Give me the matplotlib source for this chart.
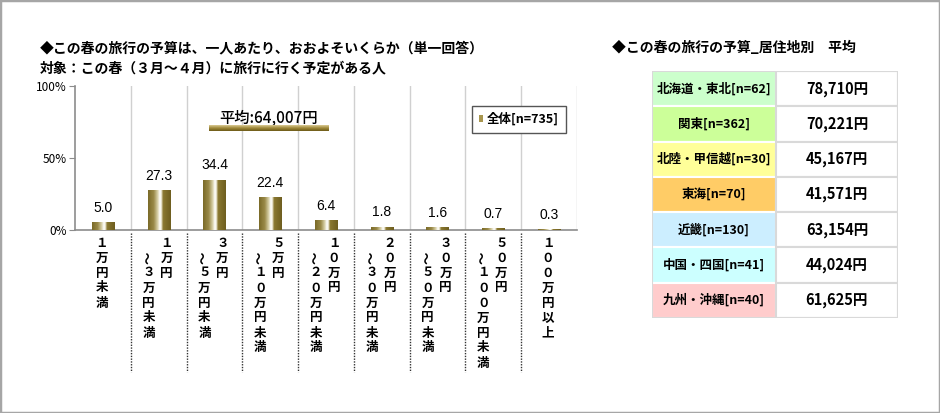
import numpy as np
import matplotlib
matplotlib.use("Agg")
import matplotlib.pyplot as plt
from matplotlib.colors import LinearSegmentedColormap
from matplotlib.patches import Rectangle, Patch

plt.rcParams["font.family"] = ["Noto Sans CJK JP", "DejaVu Sans"]

# ---- data ----
categories = [
    "１万円未満",
    "１万円～３万円未満",
    "３万円～５万円未満",
    "５万円～１０万円未満",
    "１０万円～２０万円未満",
    "２０万円～３０万円未満",
    "３０万円～５０万円未満",
    "５０万円～１００万円未満",
    "１００万円以上",
]
values = [5.0, 27.3, 34.4, 22.4, 6.4, 1.8, 1.6, 0.7, 0.3]
y_ticks = [0, 50, 100]
y_tick_labels = ["0%", "50%", "100%"]
legend_label = "全体[n=735]"
average_text = "平均:64,007円"

title_left = "◆この春の旅行の予算は、一人あたり、おおよそいくらか（単一回答）"
subtitle_left = "対象：この春（３月～４月）に旅行に行く予定がある人"
title_right = "◆この春の旅行の予算_居住地別　平均"

regions = [
    "北海道・東北[n=62]",
    "関東[n=362]",
    "北陸・甲信越[n=30]",
    "東海[n=70]",
    "近畿[n=130]",
    "中国・四国[n=41]",
    "九州・沖縄[n=40]",
]
region_avgs = ["78,710円", "70,221円", "45,167円", "41,571円",
               "63,154円", "44,024円", "61,625円"]
region_colors = ["#ccffcc", "#ccff99", "#ffff99", "#ffcc66",
                 "#cceeff", "#ccffff", "#ffcccc"]

W, H = 940, 413
fig = plt.figure(figsize=(W / 100, H / 100), dpi=100)


def fig_box(x0, y0, x1, y1):
    # pixel box (top-left origin) -> figure fraction rect
    return [x0 / W, 1 - y1 / H, (x1 - x0) / W, (y1 - y0) / H]


# outer border
fig.patches.append(Rectangle((0, 0), 1, 1, transform=fig.transFigure,
                             fill=False, edgecolor="#a6a6a6", linewidth=2.5))

# ---- titles ----
fig.text(40 / W, 1 - 48 / H, title_left, fontsize=10, fontweight="bold",
         va="center", ha="left")
fig.text(40 / W, 1 - 68 / H, subtitle_left, fontsize=10, fontweight="bold",
         va="center", ha="left")
fig.text(612 / W, 1 - 48 / H, title_right, fontsize=10, fontweight="bold",
         va="center", ha="left")

# ---- bar chart ----
ax = fig.add_axes(fig_box(75, 86, 577, 230))
x = np.arange(len(categories))
bar_cmap = LinearSegmentedColormap.from_list("olive", [
    (0.0, "#7a6a28"), (0.25, "#9a8a48"), (0.42, "#d8d0a8"), (0.52, "#ffffff"),
    (0.58, "#f4f0e0"), (0.66, "#8a7830"), (1.0, "#6e5e20")])
grad = np.linspace(0, 1, 128).reshape(1, -1)

bars = ax.bar(x, values, width=0.4, color="none", zorder=2)
for b, v in zip(bars, values):
    ax.imshow(grad, cmap=bar_cmap, aspect="auto", zorder=3,
              interpolation="bilinear",
              extent=[b.get_x(), b.get_x() + b.get_width(), 0, b.get_height()])
    ax.annotate(f"{v:.1f}", xy=(b.get_x() + b.get_width() / 2, b.get_height()),
                xytext=(0, 15), textcoords="offset pixels",
                ha="center", va="center", fontsize=10, family=["Liberation Sans"])

ax.set_xlim(-0.5, len(categories) - 0.5)
ax.set_ylim(0, 100)
ax.set_yticks(y_ticks)
ax.set_yticklabels(y_tick_labels, fontsize=8.5)
ax.set_xticks([])
for s in ("top", "right"):
    ax.spines[s].set_visible(False)
for s in ("left", "bottom"):
    ax.spines[s].set_color("#8c8c8c")
    ax.spines[s].set_linewidth(1.2)
ax.tick_params(axis="y", length=4, color="#8c8c8c", pad=2)

# category separators: light grid inside, dotted lines below
for bx in np.arange(0.5, len(categories), 1.0):
    ax.axvline(bx, color="#d0d0d0", lw=1, zorder=1)
    if bx < len(categories) - 0.5:
        ax.plot([bx, bx], [-0.02, -0.985], transform=ax.get_xaxis_transform(),
                color="#333333", lw=1, ls=(0, (1, 1)), clip_on=False)

# vertical category labels
row_h = 15
for i, lab in enumerate(categories):
    if "～" in lab:
        right, rest = lab.split("～")
        cols = [(8, 0, right), (-10, 1, "～" + rest)]
    else:
        cols = [(-1, 0, lab)]
    for dx, start, txt in cols:
        for r, ch in enumerate(txt):
            ax.annotate(ch, xy=(i, 0), xycoords=("data", "axes fraction"),
                        xytext=(dx, -13 - row_h * (start + r)),
                        textcoords="offset pixels", ha="center", va="center",
                        fontsize=9, fontweight="bold",
                        rotation=90 if ch == "～" else 0,
                        rotation_mode="anchor")

# average note
ax.text(0.386, 0.778, average_text, transform=ax.transAxes, ha="center",
        va="center", fontsize=11, fontweight="medium")
line_cmap = LinearSegmentedColormap.from_list("avg", ["#d8c890", "#a08a3a", "#6e5c1a"])
ax.imshow(np.linspace(0, 1, 16).reshape(-1, 1), cmap=line_cmap, aspect="auto",
          extent=[0.267, 0.506, 0.69, 0.725], transform=ax.transAxes, zorder=4)
ax.set_xlim(-0.5, len(categories) - 0.5)
ax.set_ylim(0, 100)

leg = ax.legend(handles=[Patch(facecolor="#a8964f", edgecolor="none")],
                labels=[legend_label], loc="upper right",
                bbox_to_anchor=(0.99, 0.905), fancybox=False,
                edgecolor="#555555", framealpha=1, handlelength=0.35,
                handleheight=0.55, handletextpad=0.3, borderpad=0.55,
                prop={"size": 9, "weight": "bold"})
leg.get_frame().set_linewidth(1)

# ---- region table ----
tx = fig.add_axes(fig_box(652, 71, 898, 318))
tx.set_xlim(0, 1)
tx.set_ylim(len(regions), 0)
tx.axis("off")
split = (776 - 652) / (898 - 652)
for r, (name, avg, col) in enumerate(zip(regions, region_avgs, region_colors)):
    tx.add_patch(Rectangle((0, r), split, 1, facecolor=col,
                           edgecolor="white", lw=1.5))
    tx.add_patch(Rectangle((split, r), 1 - split, 1, facecolor="white",
                           edgecolor="#d9d9d9", lw=1.5))
    tx.text(split / 2, r + 0.5, name, ha="center", va="center",
            fontsize=9, fontweight="bold")
    tx.text(split + (1 - split) / 2, r + 0.5, avg, ha="center", va="center",
            fontsize=10.5, fontweight="bold")
tx.add_patch(Rectangle((0, 0), 1, len(regions), fill=False,
                       edgecolor="#d9d9d9", lw=1.5))

fig.savefig("out.png", dpi=100)
